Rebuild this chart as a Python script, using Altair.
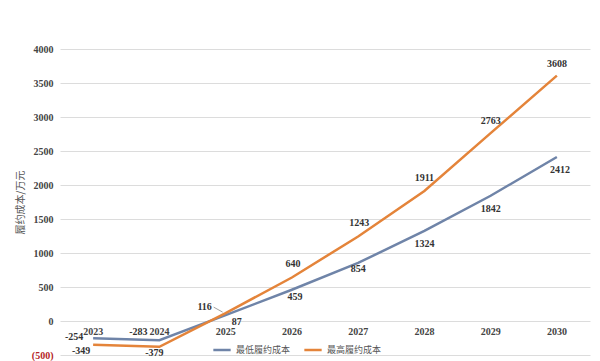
import altair as alt
import pandas as pd

years = ["2023", "2024", "2025", "2026", "2027", "2028", "2029", "2030"]
low_cost = [-254, -283, 87, 459, 854, 1324, 1842, 2412]
high_cost = [-349, -379, 116, 640, 1243, 1911, 2763, 3608]
series_names = ["最低履约成本", "最高履约成本"]
y_ticks = [-500, 0, 500, 1000, 1500, 2000, 2500, 3000, 3500, 4000]

colors = ["#6f84a8", "#e4843a"]

# label offsets (dx, dy) per point, in pixels
low_offsets = [(-19, -1), (-21, -8), (11, 7), (3, 7), (0, 6), (0, 13), (0, 13), (3, 13)]
high_offsets = [(-12, 6), (-5, 6), (-21, -6), (1, -13), (1, -13), (0, -13), (0, -12), (0, -12)]

rows = []
for i, y in enumerate(years):
    rows.append({"year": y, "series": series_names[0], "value": low_cost[i], "idx": i,
                 "label": str(low_cost[i])})
    rows.append({"year": y, "series": series_names[1], "value": high_cost[i], "idx": i,
                 "label": str(high_cost[i])})
df = pd.DataFrame(rows)

serif = "Liberation Serif"
cjk = "Noto Sans CJK SC"

x_enc = alt.X("year:O", scale=alt.Scale(type="point", padding=0.5, domain=years),
              axis=None)
y_scale = alt.Scale(domain=[-500, 4000], nice=False, zero=False)
y_axis = alt.Axis(values=y_ticks, title="履约成本/万元", titleFont=cjk,
                  titleFontSize=10, titleFontWeight="normal", titleColor="#555555",
                  titlePadding=6, labelOverlap=False,
                  labelFont=serif, labelFontSize=10, labelFontWeight="bold",
                  labelPadding=7,
                  labelExpr="datum.value < 0 ? '(' + format(-datum.value, 'd') + ')' : format(datum.value, 'd')",
                  labelColor=alt.condition("datum.value < 0", alt.value("#b42525"), alt.value("#444444")),
                  grid=True, gridColor="#dcdcdc", gridWidth=1,
                  domain=False, ticks=False)

def y_enc():
    return alt.Y("value:Q", scale=y_scale, axis=y_axis, title="履约成本/万元")

base = alt.Chart(df)

lines = base.mark_line(strokeWidth=2.5).encode(
    x=x_enc,
    y=y_enc(),
    color=alt.Color("series:N", scale=alt.Scale(domain=series_names, range=colors),
                    legend=alt.Legend(title=None, orient="none", legendX=152, legendY=291,
                                      direction="horizontal", symbolType="stroke",
                                      symbolStrokeWidth=2.5, symbolSize=300,
                                      labelFont=cjk, labelFontSize=9, labelColor="#555555",
                                      columnPadding=8)),
)

year_df = pd.DataFrame({"year": years, "value": [0] * len(years)})
year_labels = alt.Chart(year_df).mark_text(
    font=serif, fontSize=10, fontWeight="bold", color="#444444", dy=11
).encode(x=x_enc, y=y_enc(), text="year:N")

layers = [lines, year_labels]
for s_i, (name, offs) in enumerate(zip(series_names, [low_offsets, high_offsets])):
    for i, (dx, dy) in enumerate(offs):
        layers.append(
            base.transform_filter(
                (alt.datum.series == name) & (alt.datum.idx == i)
            ).mark_text(font=serif, fontSize=10, fontWeight="bold", color="#333333",
                        dx=dx, dy=dy)
            .encode(x=x_enc, y=y_enc(), text="label:N")
        )

# small leader line for the 116 label
leader = base.transform_filter(
    (alt.datum.series == series_names[1]) & (alt.datum.idx == 2)
).mark_rule(color="#888888", strokeWidth=0.8, xOffset=-12, x2Offset=-3,
            yOffset=-6, y2Offset=-1).encode(
    x=x_enc, x2="year:O", y=y_enc(), y2="value:Q")
layers.append(leader)

chart = alt.layer(*layers).properties(
    width=530, height=306,
    autosize=alt.AutoSizeParams(type="none"),
    padding={"left": 52, "top": 41, "right": 2, "bottom": 6},
    background="white",
).configure_view(stroke=None).configure_axisY(labelOverlap=False)

chart.save("out.html", embed_options={"renderer": "svg", "actions": False})
